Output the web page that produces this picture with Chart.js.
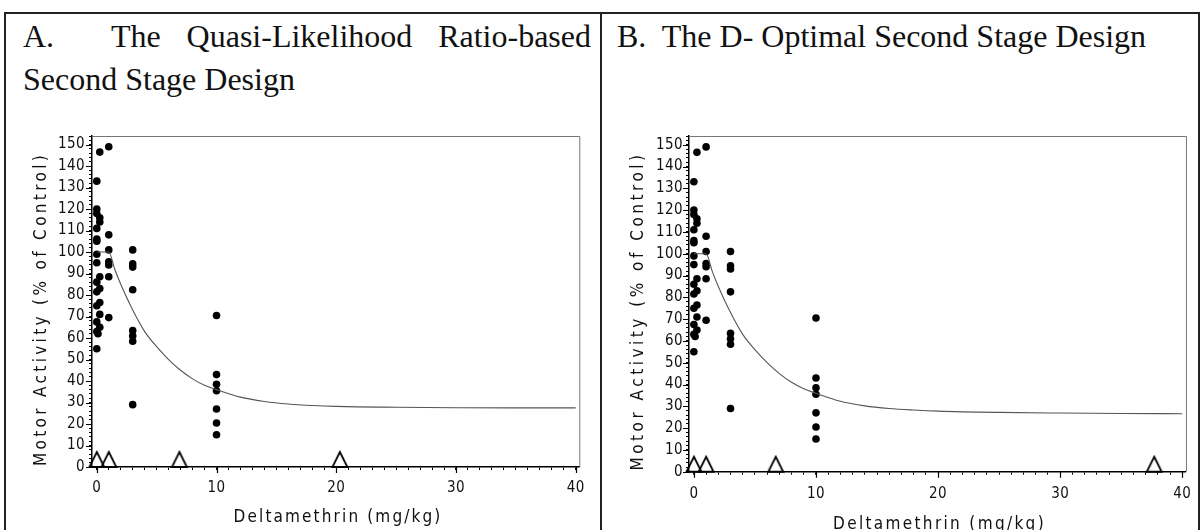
<!DOCTYPE html>
<html>
<head>
<meta charset="utf-8">
<script src="https://cdn.jsdelivr.net/npm/chart.js@4.4.0/dist/chart.umd.min.js"></script>
<style>
html, body { margin: 0; padding: 0; background: #fff; }
#page { position: relative; width: 1201px; height: 530px; overflow: hidden; background: #fff; }
.frame { position: absolute; top: 12px; height: 530px; border-top: 2px solid #222; border-left: 2px solid #222; }
#frameA { left: 4px; width: 595px; }
#frameB { left: 600px; width: 596px; border-right: 2px solid #222; }
.title { position: absolute; font-family: 'Liberation Serif', 'Times New Roman', serif; font-size: 32px; line-height: 43px; color: #111; }
#titleA { left: 23px; top: 15px; width: 568px; }
#titleA .l1 { display: flex; }
#titleA .lab { width: 88px; flex: none; }
#titleA .rest { flex: 1; text-align: justify; text-align-last: justify; }
#titleB { left: 617px; top: 15px; white-space: pre; }
canvas { position: absolute; top: 0; }
#chartA { left: 0; }
#chartB { left: 600px; }
</style>
</head>
<body>
<div id="page">
  <div class="frame" id="frameA"></div>
  <div class="frame" id="frameB"></div>
  <div class="title" id="titleA"><div class="l1"><span class="lab">A.</span><span class="rest">The Quasi-Likelihood Ratio-based</span></div><div>Second Stage Design</div></div>
  <div class="title" id="titleB">B.  The D- Optimal Second Stage Design</div>
  <canvas id="chartA" width="601" height="530"></canvas>
  <canvas id="chartB" width="601" height="530"></canvas>
</div>
<script>
// axis labels
const xTitle = 'Deltamethrin (mg/kg)';
const yTitle = 'Motor Activity (% of Control)';
const xTickLabels = [0, 10, 20, 30, 40];
const yTickLabels = [0, 10, 20, 30, 40, 50, 60, 70, 80, 90, 100, 110, 120, 130, 140, 150];

// first stage observations (same in both panels)
const obsDose = [
    0.25, 0, 0, 0, 0.25, 0.25, 0, 0, 0, 0, 0, 0.25, 0, 0.25, 0, 0.25, 0, 0.25, 0, 0.25, 0, 0.1, 0,
    1, 1, 1, 1, 1, 1, 1,
    3, 3, 3, 3, 3, 3, 3, 3,
    10, 10, 10, 10, 10, 10, 10
];
const obsActivity = [
    146.5, 133, 120, 118, 116, 114, 111, 106, 105, 99, 95, 88.5, 86, 83, 81.5, 76.5, 75, 71, 67.5, 65, 63, 62, 55,
    149, 108, 101, 95.5, 94, 88.5, 69.5,
    101, 94.5, 93, 82.5, 63.5, 61, 58.5, 29,
    70.5, 43, 38.5, 35.5, 27, 20.5, 15
];

// fitted curve
const curveDose = [0, 1, 1.5, 2, 3, 4, 5, 6, 7, 8, 9, 10, 12, 14, 16, 18, 20, 25, 30, 35, 40];
const curveA = [100, 100, 92, 85, 73, 63, 56, 50, 45, 41, 38, 36, 32.5, 30.5, 29.3, 28.6, 28.2, 27.8, 27.6, 27.5, 27.5];
const curveB = [100, 100, 92, 85, 73, 63, 56, 50, 45, 41, 38, 36, 32.3, 30.2, 29, 28.3, 27.8, 27.2, 26.9, 26.7, 26.6];

// second stage design points
const designA = [0, 1, 6.9, 20.3];
const designB = [0, 1, 6.7, 37.7];

const axisFont = "'Liberation Sans Narrow', 'DejaVu Sans Condensed', sans-serif";

// open triangle sitting on the axis (base at the point)
function makeTriangle() {
    const c = document.createElement('canvas');
    c.width = 18;
    c.height = 34;
    const g = c.getContext('2d');
    g.strokeStyle = '#000';
    g.lineWidth = 1.8;
    g.beginPath();
    g.moveTo(9, 2);
    g.lineTo(16.5, 17);
    g.lineTo(1.5, 17);
    g.closePath();
    g.stroke();
    return c;
}
const triangle = makeTriangle();

// spread text so it spans a given width
function spacingFor(ctx, text, width) {
    ctx.save();
    ctx.letterSpacing = '0px';
    const w = ctx.measureText(text).width;
    ctx.restore();
    return ((width - w) / text.length).toFixed(2) + 'px';
}

function buildChart(id, curve, design, cfg) {
    const frameAndTitles = {
        id: 'frameAndTitles',
        beforeDraw(chart) {
            const ctx = chart.ctx;
            ctx.font = '15px ' + axisFont;
            ctx.letterSpacing = spacingFor(ctx, '150', 27);
        },
        afterDraw(chart) {
            const ctx = chart.ctx;
            const a = chart.chartArea;
            const xs = chart.scales.x;
            const ys = chart.scales.y;
            ctx.save();
            // top and right frame
            ctx.strokeStyle = '#777';
            ctx.lineWidth = 1;
            ctx.beginPath();
            ctx.moveTo(a.left, a.top + 0.5);
            ctx.lineTo(a.right + 0.5, a.top + 0.5);
            ctx.lineTo(a.right + 0.5, a.bottom);
            ctx.stroke();
            // longer major ticks
            ctx.strokeStyle = '#000';
            ctx.lineWidth = 1.2;
            ctx.beginPath();
            xTickLabels.forEach(v => {
                const px = Math.round(xs.getPixelForValue(v)) + 0.5;
                ctx.moveTo(px, a.bottom);
                ctx.lineTo(px, a.bottom + 6);
            });
            yTickLabels.forEach(v => {
                const py = Math.round(ys.getPixelForValue(v)) + 0.5;
                ctx.moveTo(a.left, py);
                ctx.lineTo(a.left - 6, py);
            });
            ctx.stroke();
            // axis titles
            ctx.fillStyle = '#111';
            ctx.font = '17px ' + axisFont;
            ctx.textAlign = 'center';
            ctx.textBaseline = 'alphabetic';
            ctx.letterSpacing = spacingFor(ctx, xTitle, cfg.xTitleW);
            ctx.fillText(xTitle, cfg.xTitleX, cfg.xTitleY);
            ctx.letterSpacing = spacingFor(ctx, yTitle, cfg.yTitleW);
            ctx.translate(cfg.yTitleX, cfg.yTitleY);
            ctx.rotate(-Math.PI / 2);
            ctx.textBaseline = 'middle';
            ctx.fillText(yTitle, 0, 0);
            ctx.restore();
        }
    };

    return new Chart(document.getElementById(id), {
        type: 'scatter',
        data: {
            datasets: [
                {
                    type: 'line',
                    data: curveDose.map((d, i) => ({ x: d, y: curve[i] })),
                    borderColor: '#555',
                    borderWidth: 1.1,
                    pointRadius: 0,
                    cubicInterpolationMode: 'monotone',
                    fill: false
                },
                {
                    data: obsDose.map((d, i) => ({ x: d, y: obsActivity[i] })),
                    pointRadius: 3.8,
                    pointBackgroundColor: '#000',
                    pointBorderWidth: 0
                },
                {
                    data: design.map(d => ({ x: d, y: 0 })),
                    pointStyle: triangle,
                    clip: false
                }
            ]
        },
        options: {
            responsive: false,
            animation: false,
            events: [],
            layout: {
                padding: { top: 136, right: cfg.padRight, left: 0, bottom: 0 }
            },
            plugins: {
                legend: { display: false },
                tooltip: { enabled: false }
            },
            scales: {
                x: {
                    type: 'linear',
                    min: -0.4,
                    max: 40.3,
                    afterFit(scale) { scale.height = cfg.xHeight; },
                    border: { display: true, color: '#000', width: 1.5 },
                    grid: { display: true, drawOnChartArea: false, drawTicks: true, tickLength: 3, color: '#000' },
                    ticks: {
                        stepSize: 1,
                        includeBounds: false,
                        autoSkip: false,
                        maxRotation: 0,
                        padding: cfg.xPad,
                        color: '#111',
                        font: { family: axisFont, size: 15 },
                        callback: v => xTickLabels.includes(v) ? String(v) : ''
                    }
                },
                y: {
                    type: 'linear',
                    min: 0,
                    max: 154,
                    afterFit(scale) { scale.width = cfg.yWidth; },
                    border: { display: true, color: '#000', width: 1.5 },
                    grid: { display: true, drawOnChartArea: false, drawTicks: true, tickLength: 3, color: '#000' },
                    ticks: {
                        stepSize: 2,
                        includeBounds: false,
                        autoSkip: false,
                        padding: cfg.yPad,
                        color: '#111',
                        font: { family: axisFont, size: 15 },
                        callback: v => yTickLabels.includes(v) ? String(v) : ''
                    }
                }
            }
        },
        plugins: [frameAndTitles]
    });
}

buildChart('chartA', curveA, designA, {
    padRight: 21.7, xHeight: 63, yWidth: 92, xPad: 9, yPad: 4,
    xTitleX: 338, xTitleY: 521.5, xTitleW: 209, yTitleX: 42, yTitleY: 309, yTitleW: 314
});
buildChart('chartB', curveB, designB, {
    padRight: 15, xHeight: 58.3, yWidth: 89, xPad: 10, yPad: 3,
    xTitleX: 939.5 - 600, xTitleY: 528.5, xTitleW: 213, yTitleX: 39, yTitleY: 311, yTitleW: 319
});
</script>
</body>
</html>
